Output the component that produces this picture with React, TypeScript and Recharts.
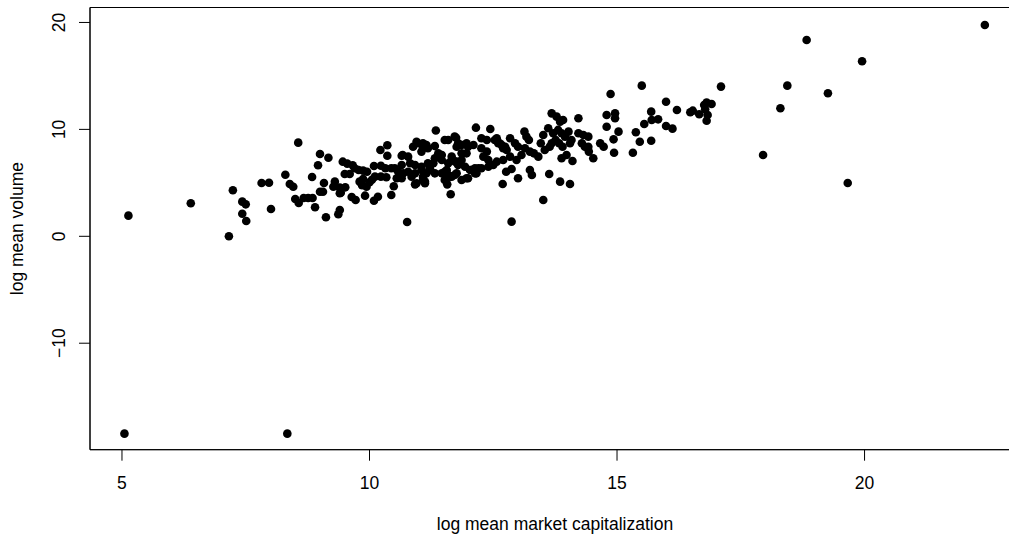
import React from 'react';
import { ScatterChart, Scatter, XAxis, YAxis, ReferenceArea } from 'recharts';

// [log mean market capitalization, log mean volume]
const lowOutliers: [number, number][] = [
  [5.05, -18.46], [8.34, -18.46],
];

const leftTail: [number, number][] = [
  [5.13, 1.93], [6.39, 3.09], [7.24, 4.3], [7.43, 3.24], [7.5, 2.99], [7.43, 2.11],
  [7.51, 1.43], [7.16, 0.0], [7.82, 4.99], [7.97, 5.01], [8.01, 2.55], [8.3, 5.76],
  [8.39, 4.89], [8.46, 4.64], [8.56, 8.76], [8.5, 3.49], [8.57, 3.12], [8.67, 3.58],
  [8.76, 3.58], [8.85, 3.58], [8.9, 2.71], [8.84, 5.55], [8.96, 6.64], [9.0, 7.7],
  [9.17, 7.35], [9.0, 4.17], [9.06, 4.17], [9.08, 4.99], [9.12, 1.78], [9.27, 4.64],
  [9.3, 5.11], [9.37, 2.06], [9.4, 2.46], [9.4, 4.02], [9.4, 4.55], [9.42, 4.08],
];

const mainCluster: [number, number][] = [
  [9.46, 6.98], [9.55, 6.8], [9.66, 6.64], [9.5, 5.83], [9.6, 5.83], [9.51, 4.58],
  [9.64, 3.68], [9.72, 3.4], [9.7, 6.36], [9.78, 6.2], [9.8, 5.11], [9.87, 6.14],
  [9.95, 6.04], [9.85, 4.77], [9.94, 4.64], [9.91, 3.8], [9.87, 5.36], [10.0, 5.05],
  [10.05, 5.29], [10.09, 3.33], [10.17, 3.7], [10.09, 6.58], [10.22, 8.07], [10.36, 8.51],
  [10.36, 7.54], [10.23, 6.6], [10.32, 6.36], [10.11, 5.58], [10.23, 5.58], [10.34, 5.52],
  [10.44, 6.36], [10.51, 6.36], [10.49, 4.68], [10.44, 3.86], [10.65, 7.54], [10.58, 6.04],
  [10.68, 5.89], [10.76, 1.34], [10.88, 8.38], [10.95, 8.85], [10.82, 6.83], [10.92, 6.67],
  [10.78, 6.04], [10.85, 5.58], [10.92, 4.86], [10.65, 5.43], [10.55, 5.43], [10.65, 6.67],
  [10.67, 7.61], [10.78, 7.45], [10.98, 8.7], [11.08, 8.7], [11.15, 8.54], [11.05, 6.2],
  [11.15, 5.89], [11.08, 5.27], [11.12, 5.11], [11.22, 6.36], [11.29, 6.83], [11.34, 9.89],
  [11.32, 8.45], [11.39, 7.76], [11.46, 7.61], [11.52, 9.0], [11.59, 9.0], [11.57, 4.86],
  [11.64, 3.93], [11.52, 6.04], [11.59, 5.73], [11.66, 5.58], [11.76, 5.89], [11.66, 7.14],
  [11.76, 6.98], [11.75, 9.22], [11.76, 8.38], [11.86, 8.54], [11.96, 8.7], [11.86, 5.27],
  [11.96, 5.43], [11.86, 7.76], [11.96, 7.76], [12.06, 6.2], [12.13, 5.89], [12.2, 6.36],
  [12.15, 10.16], [12.26, 9.17], [12.37, 9.0], [12.26, 8.23], [12.37, 7.92], [12.3, 7.45],
  [12.4, 7.14], [12.44, 10.04], [12.53, 9.0], [12.6, 8.7], [12.67, 8.54], [12.7, 8.23],
  [12.77, 8.07], [12.4, 6.51], [12.5, 6.67], [12.57, 6.98], [12.7, 7.14], [12.84, 7.45],
  [12.84, 9.17], [12.76, 6.04], [12.69, 4.89], [12.87, 1.37], [12.87, 6.3], [12.97, 7.14],
  [13.07, 7.61], [13.0, 5.43], [13.13, 9.79], [13.17, 9.32], [13.22, 9.0], [13.14, 8.23],
  [13.24, 7.92], [13.24, 6.2], [13.28, 5.73], [13.32, 7.76], [13.41, 7.45], [13.46, 8.7],
  [13.51, 9.48], [13.51, 3.4], [13.54, 8.07], [13.64, 8.38], [13.68, 8.7], [13.63, 5.83],
  [13.61, 10.1], [13.68, 11.5], [13.78, 11.19], [13.85, 10.72], [13.91, 10.88], [13.71, 9.64],
  [13.81, 9.95], [13.88, 9.64], [13.95, 9.32], [14.02, 9.79], [13.85, 5.11], [13.88, 7.3],
  [13.98, 7.61], [14.05, 8.7], [14.08, 9.0], [14.05, 4.89], [14.1, 7.04], [14.22, 11.04],
  [14.22, 9.64], [14.32, 9.48], [14.42, 9.32], [14.29, 8.7], [14.35, 8.38], [14.42, 8.38],
  [14.52, 7.3], [14.43, 7.92], [14.66, 8.7], [14.73, 8.38],
  [11.08, 8.38], [11.18, 8.23], [11.05, 7.92], [11.72, 9.32], [11.79, 8.7], [11.99, 8.38],
  [12.1, 8.54], [12.57, 9.17], [12.63, 8.7], [12.74, 8.38], [12.94, 8.7], [13.0, 8.38],
  [13.76, 9.0], [13.83, 8.7], [13.9, 8.38], [11.59, 6.83], [11.66, 7.45], [11.73, 6.98],
  [11.79, 6.67], [11.86, 7.14], [11.93, 6.51], [12.03, 6.2], [12.13, 6.36], [12.26, 6.36],
  [11.05, 6.51], [11.18, 6.83], [11.32, 7.3], [11.46, 7.14], [10.92, 5.89], [11.08, 5.58],
  [11.22, 6.2], [11.32, 5.89], [11.46, 5.89], [11.56, 6.2], [11.52, 5.27], [11.62, 5.58],
  [11.72, 5.73], [11.99, 5.43], [12.16, 5.89], [10.95, 4.96], [11.12, 4.96],
];

const upperTail: [number, number][] = [
  [14.79, 11.35], [14.79, 10.25], [14.87, 13.31], [14.96, 11.5], [14.96, 11.04], [14.93, 9.07],
  [14.94, 7.82], [15.03, 9.79], [15.32, 7.82], [15.38, 9.73], [15.46, 8.85], [15.55, 10.5],
  [15.69, 11.66], [15.7, 10.88], [15.83, 10.94], [15.69, 8.94], [15.99, 12.59], [15.99, 10.32],
  [15.5, 14.09], [16.12, 10.07], [16.21, 11.81], [16.48, 11.6], [16.53, 11.75], [16.66, 11.41],
  [16.76, 12.28], [16.81, 12.5], [16.91, 12.38], [16.78, 11.88], [16.83, 11.35], [16.81, 10.81],
  [17.1, 14.0],
];

const rightTail: [number, number][] = [
  [22.43, 19.77], [18.83, 18.36], [19.95, 16.37], [18.44, 14.09], [19.26, 13.38],
  [18.3, 11.97], [17.95, 7.6], [19.66, 4.99],
];

const xTicks = [5, 10, 15, 20];
const yTicks = [-10, 0, 10, 20];
const xDomain: [number, number] = [4.354, 23.14];
const yDomain: [number, number] = [-19.96, 21.4];
const xTitle = 'log mean market capitalization';
const yTitle = 'log mean volume';

const points = [...lowOutliers, ...leftTail, ...mainCluster, ...upperTail, ...rightTail].map(
  ([cap, vol]) => ({ cap, vol })
);

const FONT = '"Liberation Sans", Arial, Helvetica, sans-serif';
const FS = 17.5;

const fmt = (v: number) => (v < 0 ? '\u2212' + Math.abs(v) : String(v));

const XTick = (props: any) => {
  const { x, y, payload } = props;
  return (
    <text x={x} y={y} dy={26} textAnchor="middle" fontFamily={FONT} fontSize={FS} fill="#000">
      {fmt(payload.value)}
    </text>
  );
};

const YTick = (props: any) => {
  const { x, y, payload } = props;
  const bx = x - 11.5;
  return (
    <text
      x={bx}
      y={y}
      transform={`rotate(-90, ${bx}, ${y})`}
      textAnchor="middle"
      fontFamily={FONT}
      fontSize={FS}
      fill="#000"
    >
      {fmt(payload.value)}
    </text>
  );
};

const XLabel = (props: any) => {
  const vb = props.viewBox || { x: 90, y: 449.7, width: 930, height: 89.3 };
  return (
    <text
      x={vb.x + vb.width / 2}
      y={vb.y + 80.5}
      textAnchor="middle"
      fontFamily={FONT}
      fontSize={FS}
      fill="#000"
    >
      {xTitle}
    </text>
  );
};

const YLabel = (props: any) => {
  const vb = props.viewBox || { x: 0, y: 7.5, width: 90, height: 442.2 };
  const bx = vb.x + 23.5;
  const cy = vb.y + vb.height / 2;
  return (
    <text
      x={bx}
      y={cy}
      transform={`rotate(-90, ${bx}, ${cy})`}
      textAnchor="middle"
      fontFamily={FONT}
      fontSize={FS}
      fill="#000"
    >
      {yTitle}
    </text>
  );
};

const Dot = (props: any) => <circle cx={props.cx} cy={props.cy} r={4.3} fill="#000" />;

export default function App() {
  return (
    <div
      style={{
        position: 'fixed',
        left: 0,
        top: 0,
        width: 1009,
        height: 539,
        overflow: 'hidden',
        background: '#fff',
      }}
    >
      <ScatterChart width={1040} height={539} margin={{ top: 7.5, right: 20, bottom: 0, left: 0 }}>
        <XAxis
          dataKey="cap"
          type="number"
          domain={xDomain}
          ticks={xTicks}
          allowDataOverflow
          height={89.3}
          tickSize={11}
          tickMargin={2}
          tick={<XTick />}
          tickLine={{ stroke: '#000', strokeWidth: 1 }}
          axisLine={{ stroke: '#000', strokeWidth: 1 }}
          label={<XLabel />}
        />
        <YAxis
          dataKey="vol"
          type="number"
          domain={yDomain}
          ticks={yTicks}
          allowDataOverflow
          width={90}
          tickSize={11}
          tickMargin={2}
          tick={<YTick />}
          tickLine={{ stroke: '#000', strokeWidth: 1 }}
          axisLine={{ stroke: '#000', strokeWidth: 1 }}
          label={<YLabel />}
        />
        <ReferenceArea
          x1={xDomain[0]}
          x2={xDomain[1]}
          y1={yDomain[0]}
          y2={yDomain[1]}
          fill="none"
          fillOpacity={0}
          stroke="#000"
          strokeWidth={1}
          ifOverflow="visible"
        />
        <Scatter data={points} shape={<Dot />} isAnimationActive={false} />
      </ScatterChart>
    </div>
  );
}
